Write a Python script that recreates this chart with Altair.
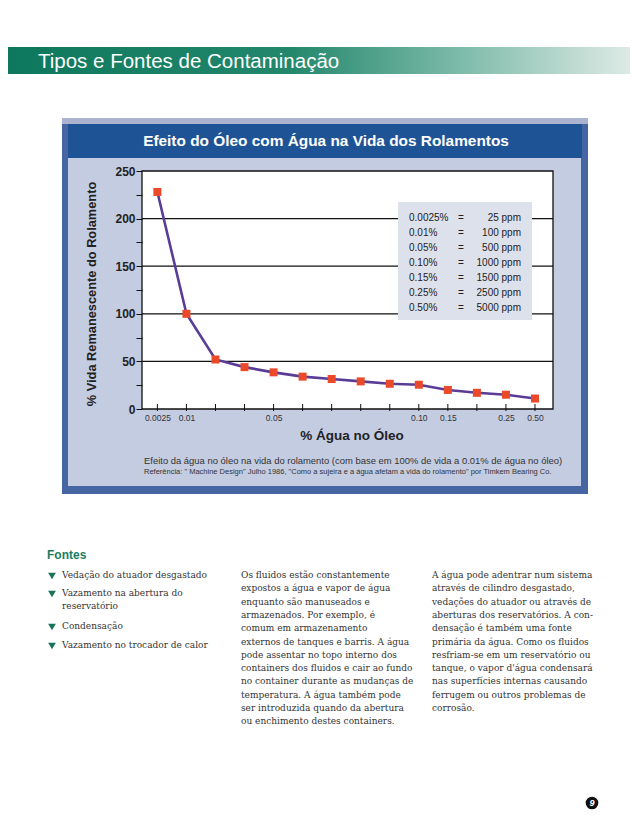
import json
import altair as alt
import pandas as pd

# ---------------- data ----------------
X_TICK_LABELS = ["0.0025", "0.01", "", "", "0.05", "", "", "", "", "0.10", "0.15", "", "0.25", "0.50"]
LIFE = [228, 100, 52, 44, 38.5, 34, 31.5, 29, 26.5, 25.5, 20, 17, 15, 11]
Y_TICKS = [0, 25, 50, 75, 100, 125, 150, 175, 200, 225, 250]
GRID_VALUES = [50, 100, 150, 200]

PCT = ["0.0025%", "0.01%", "0.05%", "0.10%", "0.15%", "0.25%", "0.50%"]
PPM = ["25 ppm", "100 ppm", "500 ppm", "1000 ppm", "1500 ppm", "2500 ppm", "5000 ppm"]

HEADER = "Tipos e Fontes de Contaminação"
CHART_TITLE = "Efeito do Óleo com Água na Vida dos Rolamentos"
Y_TITLE = "% Vida Remanescente do Rolamento"
X_TITLE = "% Água no Óleo"
CAPTION1 = "Efeito da água no óleo na vida do rolamento (com base em 100% de vida a 0.01% de água no óleo)"
CAPTION2 = ("Referência: \" Machine Design\" Julho 1986, \"Como a sujeira e a água afetam a vida do "
            "rolamento\" por Timkem Bearing Co.")

FONTES_TITLE = "Fontes"
BULLETS = [["Vedação do atuador desgastado"],
           ["Vazamento na abertura do", "reservatório"],
           ["Condensação"],
           ["Vazamento no trocador de calor"]]
COL2 = ["Os fluidos estão constantemente",
        "expostos a água e vapor de água",
        "enquanto são manuseados e",
        "armazenados. Por exemplo, é",
        "comum em armazenamento",
        "externos de tanques e barris. A água",
        "pode assentar no topo interno dos",
        "containers dos fluidos e cair ao fundo",
        "no container durante as mudanças de",
        "temperatura. A água também pode",
        "ser introduzida quando da abertura",
        "ou enchimento destes containers."]
COL3 = ["A água pode adentrar num sistema",
        "através de cilindro desgastado,",
        "vedações do atuador ou através de",
        "aberturas dos reservatórios. A con-",
        "densação é também uma fonte",
        "primária da água. Como os fluidos",
        "resfriam-se em um reservatório ou",
        "tanque, o vapor d'água condensará",
        "nas superfícies internas causando",
        "ferrugem ou outros problemas de",
        "corrosão."]
PAGE_NUMBER = "9"

# ---------------- layout (page pixel coordinates) ----------------
PX0, PY0 = 142, 171          # plot-area origin on the page
W, H = 411, 238
SANS = "Liberation Sans, Arial"
SERIF = "DejaVu Serif, serif"


def X(px):
    return px - PX0


def Y(py):
    return py - PY0


ONE = alt.Data(values=[{"k": 1}])


def rect(x1, y1, x2, y2, **kw):
    return alt.Chart(ONE).mark_rect(**kw).encode(
        x=alt.value(X(x1)), x2=alt.value(X(x2)), y=alt.value(Y(y1)), y2=alt.value(Y(y2)))


def text(x, y, s, **kw):
    return alt.Chart(ONE).mark_text(**kw).encode(
        x=alt.value(X(x)), y=alt.value(Y(y)), text=alt.value(s))


# ---------------- encodings shared by data layers ----------------
x_scale = alt.Scale(domain=[-0.53, 13.62], nice=False, zero=False)
y_scale = alt.Scale(domain=[0, 250], nice=False)
x_axis = alt.Axis(values=list(range(len(X_TICK_LABELS))),
                  labelExpr=json.dumps(X_TICK_LABELS) + "[datum.value]",
                  ticks=False, domain=False, grid=False, title=None,
                  labelFont=SANS, labelFontSize=8.5, labelColor="#333333",
                  labelPadding=4, zindex=1)
y_axis = alt.Axis(values=Y_TICKS, labelExpr="datum.value % 50 == 0 ? datum.label : ''",
                  ticks=True, tickSize=6, tickColor="#111111", tickWidth=1,
                  domain=False, grid=False, title=None,
                  labelFont=SANS, labelFontSize=12, labelFontWeight="bold",
                  labelColor="#222222", labelPadding=1, zindex=1)

XENC = alt.X("i:Q", scale=x_scale, axis=x_axis)
YENC = alt.Y("life:Q", scale=y_scale, axis=y_axis)

df = pd.DataFrame({"i": list(range(len(LIFE))), "life": LIFE})
grid_df = pd.DataFrame({"life": GRID_VALUES})
tick_df = pd.DataFrame({"i": list(range(len(X_TICK_LABELS)))})

layers = []

# header band
header_grad = alt.Gradient(gradient="linear", x1=0, x2=1, y1=0, y2=0,
                           stops=[alt.GradientStop(color="#0d785d", offset=0),
                                  alt.GradientStop(color="#23876c", offset=0.45),
                                  alt.GradientStop(color="#7dbba9", offset=0.72),
                                  alt.GradientStop(color="#e2ece8", offset=1)])
layers.append(rect(5, 47, 638, 74, fill=header_grad))
layers.append(text(38, 62, HEADER, font=SANS, fontSize=20.5,
                   color="white", align="left", baseline="middle"))

# chart panel
layers.append(rect(62, 118, 588, 494, fill="#4566a2"))
layers.append(rect(62, 118, 588, 124, fill="#aab4cf"))
layers.append(rect(68, 124, 582, 158, fill="#1e5496"))
layers.append(rect(68, 158, 581, 486, fill="#c4cce2"))
layers.append(text(326, 141, CHART_TITLE, font=SANS, fontSize=15.4, fontWeight="bold",
                   color="white", align="center", baseline="middle"))

# plot area
layers.append(rect(PX0, PY0, PX0 + W, PY0 + H, fill="white", stroke="#111111", strokeWidth=1.3))
layers.append(alt.Chart(grid_df).mark_rule(color="#111111", strokeWidth=1.2).encode(
    y=YENC, x=alt.value(0), x2=alt.value(W)))

# water/ppm box
layers.append(rect(398, 202, 532, 320, fill="#dde1ec"))
layers.append(text(409, 213, PCT, font=SANS, fontSize=10, color="#222222",
                   align="left", baseline="top", lineHeight=15))
layers.append(text(461, 213, ["="] * len(PCT), font=SANS, fontSize=10, color="#222222",
                   align="center", baseline="top", lineHeight=15))
layers.append(text(521, 213, PPM, font=SANS, fontSize=10, color="#222222",
                   align="right", baseline="top", lineHeight=15))

# x ticks crossing the bottom frame
layers.append(alt.Chart(tick_df).mark_rule(color="#111111", strokeWidth=1).encode(
    x=XENC, y=alt.value(H - 5), y2=alt.value(H + 2)))

# data
layers.append(alt.Chart(df).mark_line(color="#5a3c97", strokeWidth=2.6).encode(x=XENC, y=YENC))
layers.append(alt.Chart(df).mark_square(color="#ea4a2a", opacity=1, filled=True, size=64).encode(
    x=XENC, y=YENC))

# axis titles
layers.append(text(352, 436, X_TITLE, font=SANS, fontSize=13.5, fontWeight="bold",
                   color="#222222", align="center", baseline="middle"))
layers.append(text(92, 294, Y_TITLE, font=SANS, fontSize=12.8, fontWeight="bold",
                   color="#222222", align="center", baseline="middle", angle=270))

# caption
layers.append(text(144, 461, CAPTION1, font=SANS, fontSize=9.45, color="#333333",
                   align="left", baseline="middle"))
layers.append(text(144, 472, CAPTION2, font=SANS, fontSize=7.5, color="#333333",
                   align="left", baseline="middle"))

# bottom text section
layers.append(text(47, 555, FONTES_TITLE, font=SANS, fontSize=12,
                   fontWeight="bold", color="#1b7c60", align="left", baseline="middle"))
bullet_y = [576, 594, 627, 646]
for by, lines in zip(bullet_y, BULLETS):
    layers.append(alt.Chart(ONE).mark_point(shape="triangle-down", filled=True, opacity=1,
                                            color="#17735a", size=60).encode(
        x=alt.value(X(52)), y=alt.value(Y(by))))
    layers.append(text(62, by - 5, lines, font=SERIF, fontSize=9, color="#333333",
                       align="left", baseline="top", lineHeight=13.3))
layers.append(text(241, 571, COL2, font=SERIF, fontSize=9, color="#333333",
                   align="left", baseline="top", lineHeight=13.3))
layers.append(text(432, 571, COL3, font=SERIF, fontSize=9, color="#333333",
                   align="left", baseline="top", lineHeight=13.3))

# page number
layers.append(alt.Chart(ONE).mark_point(shape="circle", filled=True, opacity=1,
                                        color="#111111", size=160).encode(
    x=alt.value(X(592)), y=alt.value(Y(803))))
layers.append(text(592, 803, PAGE_NUMBER, font=SANS, fontSize=9,
                   fontWeight="bold", fontStyle="italic", color="white",
                   align="center", baseline="middle"))

TOTAL_W, TOTAL_H = 622, 809
chart = alt.layer(*layers).properties(
    width=W, height=H,
    autosize=alt.AutoSizeParams(type="none"),
    padding={"left": PX0 - 8, "top": PY0 - 8,
             "right": TOTAL_W - (PX0 - 8) - W, "bottom": TOTAL_H - (PY0 - 8) - H},
).configure_view(stroke=None).configure(background="white")

chart.save("out.html", embed_options={"renderer": "svg", "actions": False})
